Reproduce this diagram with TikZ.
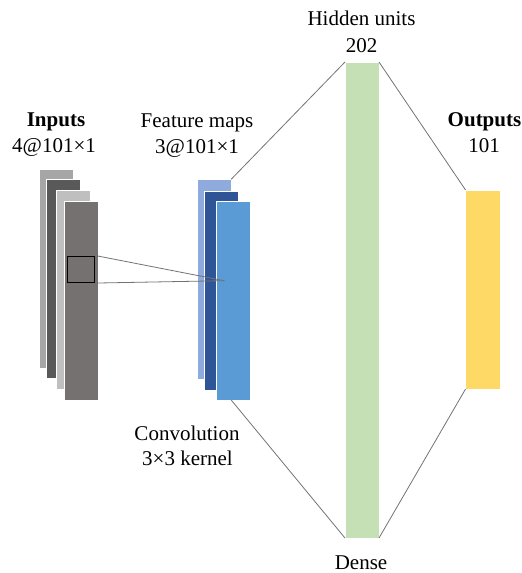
\documentclass[tikz,border=0pt]{standalone}
\usepackage{fontspec}
\setmainfont{Liberation Serif}
\begin{document}
\begin{tikzpicture}[x=1pt,y=-1pt,
  layer/.style={rectangle,inner sep=0pt,outer sep=0pt,draw=white,line width=0.4pt},
  lbl/.style={anchor=base,inner sep=0pt,font=\fontsize{21}{27}\selectfont},
  link/.style={draw=black!55,line width=0.8pt}]
  \useasboundingbox (0,0) rectangle (522,573);
  % input channels
  \node[layer,fill={rgb,255:red,166;green,166;blue,166},minimum width=34pt,minimum height=199pt] (in1) at (56,268.5) {};
  \node[layer,fill={rgb,255:red,89;green,89;blue,89},minimum width=34pt,minimum height=199pt] (in2) at (63,279) {};
  \node[layer,fill={rgb,255:red,191;green,191;blue,191},minimum width=34pt,minimum height=199pt] (in3) at (73,290) {};
  \node[layer,fill={rgb,255:red,118;green,113;blue,113},minimum width=34pt,minimum height=199pt] (in4) at (81,300.5) {};
  \node[rectangle,draw=black,line width=1pt,inner sep=0pt,minimum width=27.5pt,minimum height=26.5pt] (kern) at (81.2,269.3) {};
  % feature maps
  \node[layer,fill={rgb,255:red,143;green,170;blue,220},minimum width=34pt,minimum height=200pt] (fm1) at (214.2,279.3) {};
  \node[layer,fill={rgb,255:red,47;green,85;blue,151},minimum width=34pt,minimum height=199pt] (fm2) at (221.3,290.4) {};
  \node[layer,fill={rgb,255:red,91;green,155;blue,213},minimum width=34pt,minimum height=199pt] (fm3) at (233,300.5) {};
  \coordinate (tip) at (224.3,280.7);
  % dense and output layers
  \node[layer,fill={rgb,255:red,197;green,224;blue,180},minimum width=34pt,minimum height=476pt] (hid) at (362,300) {};
  \node[layer,fill={rgb,255:red,255;green,217;blue,102},minimum width=34.5pt,minimum height=199pt] (out) at (482.8,289.5) {};
  % connectors
  \draw[link] (kern.north east) -- (tip);
  \draw[link] (kern.south east) -- (tip);
  \draw[link] (fm1.north east) -- (hid.north west);
  \coordinate (fmb) at (fm1.east |- fm3.south);
  \draw[link] (fmb) -- (hid.south west);
  \draw[link] (hid.north east) -- (out.north west);
  \draw[link] (hid.south east) -- (out.south west);
  % labels
  \node[lbl] (inA) at (56,126) {\textbf{Inputs}};
  \node[lbl] (inB) at (54,152) {4@101×1};
  \node[lbl] (fmA) at (197,127) {Feature maps};
  \node[lbl] (fmB) at (197,153) {3@101×1};
  \node[lbl] (hA) at (361.5,25.7) {Hidden units};
  \node[lbl] (hB) at (361.5,52.7) {202};
  \node[lbl] (oA) at (484.5,126) {\textbf{Outputs}};
  \node[lbl] (oB) at (484,152) {101};
  \node[lbl] (cA) at (187,440) {Convolution};
  \node[lbl] (cB) at (187.5,465) {3×3 kernel};
  \node[lbl] (dA) at (361,569) {Dense};
\end{tikzpicture}
\end{document}
